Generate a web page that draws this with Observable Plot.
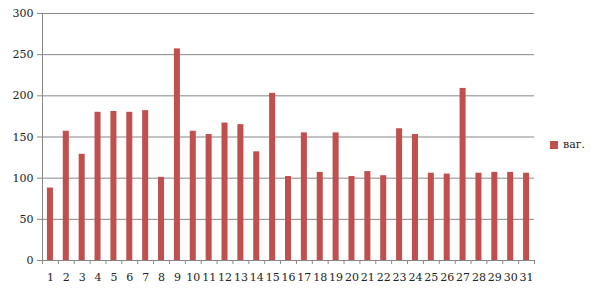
<!DOCTYPE html>
<html>
<head>
<meta charset="utf-8">
<script src="https://cdn.jsdelivr.net/npm/d3@7"></script>
<script src="https://cdn.jsdelivr.net/npm/@observablehq/plot@0.6"></script>
<style>
  html, body { margin: 0; padding: 0; background: #fff; }
  #wrap { position: relative; width: 594px; height: 290px; font-family: "DejaVu Serif", serif; }
  #legend { position: absolute; left: 550px; top: 138px; font-size: 11px; color: #222; display: flex; align-items: center; }
  #legend .sw { width: 8px; height: 8px; background: #c0504d; margin-right: 5px; }
</style>
</head>
<body>
<div id="wrap"><div id="chart"></div><div id="legend"><span class="sw"></span><span>ваг.</span></div></div>
<script>
const days = [1,2,3,4,5,6,7,8,9,10,11,12,13,14,15,16,17,18,19,20,21,22,23,24,25,26,27,28,29,30,31];
const values = [88,157,129,180,181,180,182,101,257,157,153,167,165,132,203,102,155,107,155,102,108,103,160,153,106,105,209,106,107,107,106];
const yTicks = [0,50,100,150,200,250,300];
const seriesName = "ваг.";

const data = days.map((d, i) => ({day: d, value: values[i]}));
const boundaries = d3.range(days.length + 1).map(i => days[0] - 0.5 + i);
const half = 0.19;
const grey = "#868686";

const chart = Plot.plot({
  width: 594,
  height: 290,
  marginLeft: 42,
  marginRight: 60,
  marginTop: 13,
  marginBottom: 30,
  style: {fontFamily: "DejaVu Serif, serif", fontSize: "11px", color: "#222", background: "#fff"},
  x: {type: "linear", domain: [days[0] - 0.5, days[days.length - 1] + 0.5]},
  y: {domain: [0, 300]},
  marks: [
    Plot.ruleY(yTicks, {stroke: grey, strokeWidth: 1}),
    Plot.rectY(data, {x1: d => d.day - half, x2: d => d.day + half, y: "value", fill: "#c0504d"}),
    Plot.ruleX([days[0] - 0.5], {y1: 0, y2: 300, stroke: grey}),
    Plot.axisY({ticks: yTicks, tickSize: 5, tickPadding: 4, stroke: grey, label: null}),
    Plot.axisX({ticks: boundaries, tickSize: 4, tickFormat: () => "", stroke: grey, label: null}),
    Plot.axisX({ticks: days, tickSize: 0, tickPadding: 13, tickFormat: d => String(d), label: null})
  ]
});
document.getElementById("chart").appendChild(chart);
</script>
</body>
</html>
